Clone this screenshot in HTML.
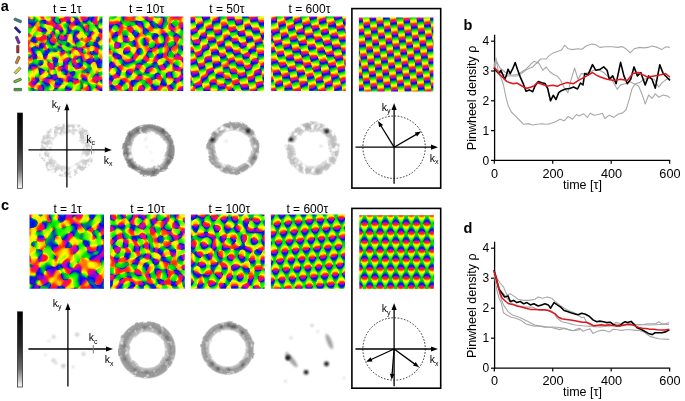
<!DOCTYPE html><html><head><meta charset="utf-8"><style>html,body{margin:0;padding:0;background:#fff;overflow:hidden}svg{display:block}</style></head><body><svg width="685" height="401" viewBox="0 0 685 401"><defs><linearGradient id="wb" spreadMethod="repeat" gradientUnits="userSpaceOnUse"><stop offset="0" stop-color="rgb(255,128,0)"/><stop offset=".083" stop-color="rgb(238,191,0)"/><stop offset=".167" stop-color="rgb(191,238,0)"/><stop offset=".25" stop-color="rgb(128,255,0)"/><stop offset=".333" stop-color="rgb(64,238,0)"/><stop offset=".417" stop-color="rgb(17,191,0)"/><stop offset=".5" stop-color="rgb(0,128,0)"/><stop offset=".583" stop-color="rgb(17,64,0)"/><stop offset=".667" stop-color="rgb(64,17,0)"/><stop offset=".75" stop-color="rgb(127,0,0)"/><stop offset=".833" stop-color="rgb(191,17,0)"/><stop offset=".917" stop-color="rgb(238,64,0)"/><stop offset="1" stop-color="rgb(255,127,0)"/></linearGradient><filter id="cm6" color-interpolation-filters="sRGB"><feGaussianBlur in="SourceGraphic" stdDeviation="0.8" result="s"/><feColorMatrix in="s" values="5.7956 1.5529 0 0 -3.1742 4.2426 4.2426 0 0 -3.7426 1.5529 5.7956 0 0 -3.1742 0 0 0 1 0" result="a"/><feColorMatrix in="s" values="-1.5529 5.7956 0 0 -1.6213 -4.2426 4.2426 0 0 .5 -5.7956 1.5529 0 0 2.6213 0 0 0 1 0" result="b"/><feColorMatrix in="a" values="-.1529 -.1333 -.1503 0 .9314 0 -.0039 -.0078 0 .8954 .0078 .0706 .2353 0 .1863 0 0 0 1 0" result="p"/><feColorMatrix in="b" values="-1.0544 .3581 .7171 0 .5 -.1059 -.1843 -.0824 0 .5 .0784 .2588 .0235 0 .5 0 0 0 1 0" result="q"/><feComposite in="p" in2="q" operator="arithmetic" k1="0" k2="2.5" k3="2.5" k4="-2.5"/><feGaussianBlur stdDeviation="0.45"/></filter><filter id="cm12" color-interpolation-filters="sRGB"><feGaussianBlur in="SourceGraphic" stdDeviation="0.8" result="s"/><feColorMatrix in="s" values="11.5911 3.1058 0 0 -6.8485 8.4853 8.4853 0 0 -7.9853 3.1058 11.5911 0 0 -6.8485 0 0 0 1 0" result="a"/><feColorMatrix in="s" values="-3.1058 11.5911 0 0 -3.7426 -8.4853 8.4853 0 0 .5 -11.5911 3.1058 0 0 4.7426 0 0 0 1 0" result="b"/><feColorMatrix in="a" values="-.1529 -.1333 -.1503 0 .9314 0 -.0039 -.0078 0 .8954 .0078 .0706 .2353 0 .1863 0 0 0 1 0" result="p"/><feColorMatrix in="b" values="-1.0544 .3581 .7171 0 .5 -.1059 -.1843 -.0824 0 .5 .0784 .2588 .0235 0 .5 0 0 0 1 0" result="q"/><feComposite in="p" in2="q" operator="arithmetic" k1="0" k2="2.5" k3="2.5" k4="-2.5"/><feGaussianBlur stdDeviation="0.45"/></filter><filter id="cm20" color-interpolation-filters="sRGB"><feGaussianBlur in="SourceGraphic" stdDeviation="0.8" result="s"/><feColorMatrix in="s" values="19.3185 5.1764 0 0 -11.7474 14.1421 14.1421 0 0 -13.6421 5.1764 19.3185 0 0 -11.7474 0 0 0 1 0" result="a"/><feColorMatrix in="s" values="-5.1764 19.3185 0 0 -6.5711 -14.1421 14.1421 0 0 .5 -19.3185 5.1764 0 0 7.5711 0 0 0 1 0" result="b"/><feColorMatrix in="a" values="-.1529 -.1333 -.1503 0 .9314 0 -.0039 -.0078 0 .8954 .0078 .0706 .2353 0 .1863 0 0 0 1 0" result="p"/><feColorMatrix in="b" values="-1.0544 .3581 .7171 0 .5 -.1059 -.1843 -.0824 0 .5 .0784 .2588 .0235 0 .5 0 0 0 1 0" result="q"/><feComposite in="p" in2="q" operator="arithmetic" k1="0" k2="2.5" k3="2.5" k4="-2.5"/><feGaussianBlur stdDeviation="0.45"/></filter><filter id="sb" x="-50%" y="-50%" width="200%" height="200%"><feGaussianBlur stdDeviation="0.8"/></filter><linearGradient id="a10" href="#wb" x1="23.5" y1="17.98" x2="31.28" y2="15.64"/><linearGradient id="a11" href="#wb" x1="20.65" y1="17.57" x2="29.22" y2="16.45"/><linearGradient id="a12" href="#wb" x1="26.32" y1="16.5" x2="34.23" y2="16.95"/><linearGradient id="a13" href="#wb" x1="24.76" y1="15.53" x2="31.85" y2="17.8"/><linearGradient id="a14" href="#wb" x1="22.14" y1="14.43" x2="32.53" y2="18.21"/><linearGradient id="a15" href="#wb" x1="24.61" y1="14.28" x2="29.96" y2="17.84"/><linearGradient id="a16" href="#wb" x1="25.43" y1="14.1" x2="32.63" y2="20.85"/><linearGradient id="a17" href="#wb" x1="22.93" y1="10.39" x2="29.08" y2="17.77"/><linearGradient id="a18" href="#wb" x1="26.61" y1="12.95" x2="29.77" y2="20.71"/><linearGradient id="a19" href="#wb" x1="27.74" y1="14.68" x2="29.21" y2="22.5"/><linearGradient id="a110" href="#wb" x1="27.19" y1="5.39" x2="28.35" y2="19.66"/><linearGradient id="a111" href="#wb" x1="28.31" y1="13.04" x2="27.9" y2="19.92"/><linearGradient id="a112" href="#wb" x1="29.1" y1="13.64" x2="26.59" y2="21.07"/><linearGradient id="a113" href="#wb" x1="29.22" y1="14.12" x2="26.94" y2="19.16"/><linearGradient id="a114" href="#wb" x1="28.7" y1="15.64" x2="22.15" y2="26.14"/><linearGradient id="a115" href="#wb" x1="29.78" y1="14.73" x2="20.42" y2="25.18"/><linearGradient id="a116" href="#wb" x1="33.41" y1="12.93" x2="27.91" y2="16.73"/><linearGradient id="a117" href="#wb" x1="28.37" y1="16.47" x2="20.56" y2="20.24"/><linearGradient id="a118" href="#wb" x1="28.78" y1="16.43" x2="14.5" y2="19.96"/><linearGradient id="a119" href="#wb" x1="35.48" y1="16.44" x2="24.55" y2="16.68"/><linearGradient id="a120" href="#wb" x1="29.03" y1="16.6" x2="22.13" y2="16.61"/><linearGradient id="a121" href="#wb" x1="35.3" y1="19.04" x2="24.42" y2="15.36"/><linearGradient id="a122" href="#wb" x1="33.08" y1="19.04" x2="23.65" y2="14.42"/><linearGradient id="a123" href="#wb" x1="30.69" y1="18.38" x2="24.99" y2="14.47"/><linearGradient id="a124" href="#wb" x1="34.97" y1="24.01" x2="27.55" y2="16"/><linearGradient id="a125" href="#wb" x1="32.3" y1="23.37" x2="13.8" y2="-6.45"/><linearGradient id="a126" href="#wb" x1="29.55" y1="20.26" x2="26.7" y2="13.07"/><linearGradient id="a127" href="#wb" x1="29.65" y1="22.44" x2="27.89" y2="15.81"/><linearGradient id="a128" href="#wb" x1="29.21" y1="31.39" x2="27.71" y2="11.38"/><linearGradient id="a129" href="#wb" x1="28.01" y1="23.22" x2="28.15" y2="13.33"/><linearGradient id="a130" href="#wb" x1="26.83" y1="21.57" x2="28.87" y2="13.58"/><linearGradient id="a131" href="#wb" x1="27.5" y1="17.98" x2="31.16" y2="9.51"/><linearGradient id="a132" href="#wb" x1="25.8" y1="20.35" x2="29.6" y2="14.15"/><linearGradient id="a133" href="#wb" x1="25.09" y1="19.55" x2="32.93" y2="11.86"/><linearGradient id="a134" href="#wb" x1="26.2" y1="18.12" x2="30.89" y2="14.36"/><linearGradient id="a135" href="#wb" x1="23.7" y1="18.77" x2="34.15" y2="13.61"/><clipPath id="ca1"><rect x="28.1" y="16.6" width="74.3" height="74.4"/></clipPath><linearGradient id="a20" href="#wb" x1="107.71" y1="14.09" x2="111.71" y2="22.53"/><linearGradient id="a21" href="#wb" x1="107.14" y1="8.45" x2="109.11" y2="17.59"/><linearGradient id="a22" href="#wb" x1="108.83" y1="14.13" x2="109.12" y2="24.32"/><linearGradient id="a23" href="#wb" x1="109.57" y1="8.81" x2="108.71" y2="18.81"/><linearGradient id="a24" href="#wb" x1="112.53" y1="7.65" x2="108.88" y2="16.65"/><linearGradient id="a25" href="#wb" x1="112.54" y1="12.06" x2="106.37" y2="19.76"/><linearGradient id="a26" href="#wb" x1="109.96" y1="15.65" x2="102.71" y2="22.11"/><linearGradient id="a27" href="#wb" x1="114.82" y1="13.04" x2="106.85" y2="17.83"/><linearGradient id="a28" href="#wb" x1="109.93" y1="16.24" x2="100.88" y2="19.44"/><linearGradient id="a29" href="#wb" x1="114.35" y1="15.82" x2="104.23" y2="17.27"/><linearGradient id="a210" href="#wb" x1="111.58" y1="17.04" x2="102.52" y2="15.55"/><linearGradient id="a211" href="#wb" x1="116.72" y1="18.05" x2="107.11" y2="16.27"/><linearGradient id="a212" href="#wb" x1="114.15" y1="19.02" x2="105.45" y2="15.01"/><linearGradient id="a213" href="#wb" x1="109.31" y1="16.97" x2="102.27" y2="10.66"/><linearGradient id="a214" href="#wb" x1="111.18" y1="19.09" x2="104.87" y2="12.19"/><linearGradient id="a215" href="#wb" x1="110.37" y1="19.67" x2="106.15" y2="10.88"/><linearGradient id="a216" href="#wb" x1="109.52" y1="19.32" x2="107.34" y2="9.71"/><linearGradient id="a217" href="#wb" x1="109.2" y1="26.39" x2="108.9" y2="16.57"/><linearGradient id="a218" href="#wb" x1="108.4" y1="19.89" x2="109.9" y2="10.05"/><linearGradient id="a219" href="#wb" x1="105.71" y1="23.37" x2="109.81" y2="14.68"/><linearGradient id="a220" href="#wb" x1="106.07" y1="21.8" x2="110.57" y2="13.53"/><linearGradient id="a221" href="#wb" x1="104.64" y1="21.29" x2="110.94" y2="14.35"/><linearGradient id="a222" href="#wb" x1="102.41" y1="21.12" x2="110.32" y2="15.61"/><linearGradient id="a223" href="#wb" x1="101.79" y1="19.91" x2="110.35" y2="15.92"/><linearGradient id="a224" href="#wb" x1="102.98" y1="16.97" x2="112.43" y2="16.38"/><linearGradient id="a225" href="#wb" x1="107.82" y1="16.44" x2="117.21" y2="17.81"/><linearGradient id="a226" href="#wb" x1="101.27" y1="14.68" x2="110.24" y2="16.94"/><linearGradient id="a227" href="#wb" x1="103.51" y1="13.62" x2="111.69" y2="18.14"/><linearGradient id="a228" href="#wb" x1="102.23" y1="10.23" x2="109.5" y2="17.17"/><linearGradient id="a229" href="#wb" x1="106.5" y1="14.08" x2="113.04" y2="20.94"/><clipPath id="ca2"><rect x="108.9" y="16.6" width="74.4" height="74.4"/></clipPath><linearGradient id="a30" href="#wb" x1="187.89" y1="21.99" x2="191.95" y2="13.6"/><linearGradient id="a31" href="#wb" x1="195.64" y1="20.94" x2="188.51" y2="14.92"/><linearGradient id="a32" href="#wb" x1="195.53" y1="9.68" x2="189.68" y2="17.72"/><linearGradient id="a33" href="#wb" x1="192.76" y1="18.79" x2="184.94" y2="11.23"/><linearGradient id="a34" href="#wb" x1="190.31" y1="21.48" x2="190.75" y2="10.35"/><linearGradient id="a35" href="#wb" x1="186.81" y1="19.54" x2="195.22" y2="12.84"/><linearGradient id="a36" href="#wb" x1="189.74" y1="15.69" x2="196.5" y2="23.79"/><linearGradient id="a37" href="#wb" x1="186.9" y1="7.79" x2="190.8" y2="17.34"/><clipPath id="ca3"><rect x="190.5" y="16.6" width="73.5" height="74.4"/></clipPath><linearGradient id="a40" href="#wb" x1="268.71" y1="22.32" x2="272.31" y2="13.7"/><linearGradient id="a41" href="#wb" x1="276.44" y1="21.29" x2="269.42" y2="15.12"/><linearGradient id="a42" href="#wb" x1="269.81" y1="16.51" x2="280.1" y2="17.26"/><linearGradient id="a43" href="#wb" x1="268.08" y1="9.92" x2="272.19" y2="19.01"/><linearGradient id="a44" href="#wb" x1="278.91" y1="13.61" x2="269.43" y2="17.24"/><linearGradient id="a45" href="#wb" x1="277.19" y1="21.34" x2="269.13" y2="15.07"/><clipPath id="ca4"><rect x="271.1" y="16.6" width="74.6" height="74.4"/></clipPath><linearGradient id="ab0" href="#wb" x1="356.01" y1="21.37" x2="361.35" y2="14.04"/><linearGradient id="ab1" href="#wb" x1="362.94" y1="20.9" x2="356.09" y2="14.97"/><clipPath id="cab"><rect x="358.9" y="17.4" width="74.5" height="74.2"/></clipPath><linearGradient id="c10" href="#wb" x1="31.56" y1="218.21" x2="27.5" y2="210.69"/><linearGradient id="c11" href="#wb" x1="33.22" y1="222.96" x2="29.01" y2="213.27"/><linearGradient id="c12" href="#wb" x1="29.95" y1="217.01" x2="28.37" y2="207.86"/><linearGradient id="c13" href="#wb" x1="28.84" y1="230.03" x2="32.16" y2="151.44"/><linearGradient id="c14" href="#wb" x1="27.4" y1="225.28" x2="31.48" y2="204.12"/><linearGradient id="c15" href="#wb" x1="23.2" y1="227.77" x2="33.67" y2="205.55"/><linearGradient id="c16" href="#wb" x1="18.43" y1="227.05" x2="36.71" y2="206.17"/><linearGradient id="c17" href="#wb" x1="25.49" y1="217.38" x2="36.89" y2="208.9"/><linearGradient id="c18" href="#wb" x1="26.05" y1="216.52" x2="35.2" y2="210.89"/><linearGradient id="c19" href="#wb" x1="24.49" y1="216" x2="38.88" y2="211.4"/><linearGradient id="c110" href="#wb" x1="23.17" y1="214.63" x2="35.66" y2="214.17"/><linearGradient id="c111" href="#wb" x1="24.36" y1="213.54" x2="39.57" y2="216.08"/><linearGradient id="c112" href="#wb" x1="20.53" y1="210.84" x2="54.99" y2="224.52"/><linearGradient id="c113" href="#wb" x1="23.57" y1="210.63" x2="33.56" y2="216.98"/><linearGradient id="c114" href="#wb" x1="27.7" y1="212.39" x2="33.34" y2="218.67"/><linearGradient id="c115" href="#wb" x1="22.87" y1="206.02" x2="32.58" y2="218.29"/><linearGradient id="c116" href="#wb" x1="22.23" y1="195.93" x2="31.31" y2="218.99"/><linearGradient id="c117" href="#wb" x1="27.41" y1="207.04" x2="31.69" y2="222.12"/><linearGradient id="c118" href="#wb" x1="29.54" y1="211.69" x2="29.38" y2="222.31"/><linearGradient id="c119" href="#wb" x1="37.85" y1="189.85" x2="27.75" y2="219.56"/><linearGradient id="c120" href="#wb" x1="33.91" y1="202.79" x2="29.04" y2="215.62"/><linearGradient id="c121" href="#wb" x1="29.57" y1="214.29" x2="23.79" y2="223.22"/><linearGradient id="c122" href="#wb" x1="37.83" y1="206.6" x2="27.94" y2="215.86"/><linearGradient id="c123" href="#wb" x1="29.67" y1="214.3" x2="21.62" y2="219.04"/><linearGradient id="c124" href="#wb" x1="33.95" y1="212.89" x2="25.71" y2="215.69"/><linearGradient id="c125" href="#wb" x1="32.13" y1="213.94" x2="22.16" y2="215.68"/><linearGradient id="c126" href="#wb" x1="29.93" y1="214.48" x2="1.7" y2="208.99"/><linearGradient id="c127" href="#wb" x1="36.92" y1="217.96" x2="25" y2="212.24"/><linearGradient id="c128" href="#wb" x1="31.48" y1="215.46" x2="23.06" y2="210.94"/><linearGradient id="c129" href="#wb" x1="36.33" y1="221.38" x2="27.04" y2="211.88"/><clipPath id="cc1"><rect x="29.5" y="214.4" width="74.5" height="74.4"/></clipPath><linearGradient id="c20" href="#wb" x1="108.77" y1="214.54" x2="118.38" y2="213.55"/><linearGradient id="c21" href="#wb" x1="106.55" y1="213.8" x2="117.59" y2="215.66"/><linearGradient id="c22" href="#wb" x1="109.44" y1="214.18" x2="119.06" y2="217.37"/><linearGradient id="c23" href="#wb" x1="107.81" y1="212.38" x2="115.57" y2="219.21"/><linearGradient id="c24" href="#wb" x1="107.31" y1="211.86" x2="114.29" y2="218.21"/><linearGradient id="c25" href="#wb" x1="109.88" y1="214.02" x2="114.95" y2="222.76"/><linearGradient id="c26" href="#wb" x1="109.75" y1="213.5" x2="113.49" y2="223.14"/><linearGradient id="c27" href="#wb" x1="108.72" y1="207.54" x2="110.7" y2="217.38"/><linearGradient id="c28" href="#wb" x1="110.22" y1="212.98" x2="109.38" y2="223.04"/><linearGradient id="c29" href="#wb" x1="110.62" y1="212.64" x2="107.98" y2="221.61"/><linearGradient id="c210" href="#wb" x1="113.52" y1="207.84" x2="109.67" y2="215.22"/><linearGradient id="c211" href="#wb" x1="117.74" y1="207.1" x2="109.28" y2="215.18"/><linearGradient id="c212" href="#wb" x1="115.64" y1="209.9" x2="107.53" y2="216.49"/><linearGradient id="c213" href="#wb" x1="118.02" y1="211.33" x2="108.88" y2="214.87"/><linearGradient id="c214" href="#wb" x1="118.6" y1="211.79" x2="108.09" y2="215.02"/><linearGradient id="c215" href="#wb" x1="115.11" y1="213.87" x2="104.52" y2="214.99"/><linearGradient id="c216" href="#wb" x1="118.57" y1="216.44" x2="108.82" y2="214.09"/><linearGradient id="c217" href="#wb" x1="118.12" y1="218.95" x2="109.83" y2="214.24"/><linearGradient id="c218" href="#wb" x1="113.28" y1="216.56" x2="105.37" y2="211.19"/><linearGradient id="c219" href="#wb" x1="114.85" y1="220" x2="108.76" y2="212.82"/><linearGradient id="c220" href="#wb" x1="115.13" y1="222.51" x2="109.97" y2="214.19"/><linearGradient id="c221" href="#wb" x1="113.38" y1="222.23" x2="109.86" y2="213.82"/><linearGradient id="c222" href="#wb" x1="110.35" y1="219.35" x2="109.76" y2="207.65"/><linearGradient id="c223" href="#wb" x1="109.87" y1="218.83" x2="110.36" y2="209.45"/><linearGradient id="c224" href="#wb" x1="108.16" y1="221.4" x2="110.63" y2="212.47"/><linearGradient id="c225" href="#wb" x1="106.5" y1="219.49" x2="112.37" y2="211.19"/><linearGradient id="c226" href="#wb" x1="108.42" y1="215.94" x2="115.55" y2="209.4"/><linearGradient id="c227" href="#wb" x1="107.71" y1="216.23" x2="115.41" y2="210.33"/><linearGradient id="c228" href="#wb" x1="107.79" y1="215.44" x2="116.36" y2="211.58"/><linearGradient id="c229" href="#wb" x1="109.86" y1="214.43" x2="118.69" y2="213.16"/><clipPath id="cc2"><rect x="110.1" y="214.4" width="74.7" height="74.4"/></clipPath><linearGradient id="c30" href="#wb" x1="194.79" y1="217.12" x2="187.01" y2="211.68"/><linearGradient id="c31" href="#wb" x1="190.49" y1="219.13" x2="191.31" y2="209.67"/><linearGradient id="c32" href="#wb" x1="186.6" y1="216.41" x2="195.2" y2="212.39"/><linearGradient id="c33" href="#wb" x1="192.77" y1="221.37" x2="190.22" y2="211.88"/><linearGradient id="c34" href="#wb" x1="188.89" y1="217.8" x2="193.73" y2="209.61"/><linearGradient id="c35" href="#wb" x1="182.8" y1="213.26" x2="192.72" y2="214.66"/><linearGradient id="c36" href="#wb" x1="190.54" y1="214.28" x2="199.24" y2="217.24"/><linearGradient id="c37" href="#wb" x1="185.41" y1="205.51" x2="191.03" y2="214.61"/><linearGradient id="c38" href="#wb" x1="191.28" y1="213.41" x2="187.49" y2="223.26"/><linearGradient id="c39" href="#wb" x1="200.19" y1="215.19" x2="190.17" y2="214.34"/><linearGradient id="c310" href="#wb" x1="197.07" y1="218.27" x2="188.52" y2="212.91"/><clipPath id="cc3"><rect x="190.9" y="214.4" width="73.8" height="74.4"/></clipPath><linearGradient id="c40" href="#wb" x1="275.11" y1="216.37" x2="266.69" y2="212.43"/><linearGradient id="c41" href="#wb" x1="271.31" y1="219.03" x2="270.49" y2="209.77"/><linearGradient id="c42" href="#wb" x1="267.09" y1="217.07" x2="274.71" y2="211.73"/><linearGradient id="c43" href="#wb" x1="267.89" y1="214.13" x2="276.48" y2="214.89"/><linearGradient id="c44" href="#wb" x1="268.74" y1="210.69" x2="273.27" y2="218.47"/><linearGradient id="c45" href="#wb" x1="275.88" y1="217.12" x2="267.82" y2="212.72"/><linearGradient id="c46" href="#wb" x1="271.15" y1="218.11" x2="270.54" y2="209.06"/><clipPath id="cc4"><rect x="270.9" y="214.4" width="74.1" height="74.4"/></clipPath><linearGradient id="cb0" href="#wb" x1="355.4" y1="212.95" x2="363.2" y2="217.45"/><linearGradient id="cb1" href="#wb" x1="359.3" y1="210.7" x2="359.3" y2="219.7"/><linearGradient id="cb2" href="#wb" x1="363.2" y1="212.95" x2="355.4" y2="217.45"/><clipPath id="ccb"><rect x="359.3" y="215.2" width="74.6" height="73.8"/></clipPath><radialGradient id="rg1" gradientUnits="userSpaceOnUse" cx="66.9" cy="150" r="28.3"><stop offset=".534" stop-color="rgb(200,200,200)" stop-opacity="0"/><stop offset=".59" stop-color="rgb(200,200,200)" stop-opacity=".55"/><stop offset=".76" stop-color="rgb(200,200,200)" stop-opacity="1"/><stop offset=".929" stop-color="rgb(200,200,200)" stop-opacity=".85"/><stop offset=".986" stop-color="rgb(200,200,200)" stop-opacity="0"/></radialGradient><filter id="nz1" x="-10%" y="-10%" width="120%" height="120%"><feTurbulence type="fractalNoise" baseFrequency="0.2" numOctaves="2" seed="3" result="t"/><feTurbulence type="fractalNoise" baseFrequency="0.12" numOctaves="1" seed="53" result="d"/><feDisplacementMap in="SourceGraphic" in2="d" scale="5" xChannelSelector="R" yChannelSelector="G" result="sg"/><feColorMatrix in="t" values="0 0 0 0 0 0 0 0 0 0 0 0 0 0 0 4.5 0 0 0 -1.7" result="m"/><feComposite in="sg" in2="m" operator="in"/><feGaussianBlur stdDeviation="0.7"/></filter><radialGradient id="rg2" gradientUnits="userSpaceOnUse" cx="148.9" cy="150" r="27"><stop offset=".63" stop-color="rgb(128,128,128)" stop-opacity="0"/><stop offset=".689" stop-color="rgb(128,128,128)" stop-opacity=".55"/><stop offset=".807" stop-color="rgb(128,128,128)" stop-opacity="1"/><stop offset=".926" stop-color="rgb(128,128,128)" stop-opacity=".85"/><stop offset=".985" stop-color="rgb(128,128,128)" stop-opacity="0"/></radialGradient><filter id="nz2" x="-10%" y="-10%" width="120%" height="120%"><feTurbulence type="fractalNoise" baseFrequency="0.15" numOctaves="2" seed="5" result="t"/><feTurbulence type="fractalNoise" baseFrequency="0.12" numOctaves="1" seed="55" result="d"/><feDisplacementMap in="SourceGraphic" in2="d" scale="5" xChannelSelector="R" yChannelSelector="G" result="sg"/><feColorMatrix in="t" values="0 0 0 0 0 0 0 0 0 0 0 0 0 0 0 3.5 0 0 0 -0.5" result="m"/><feComposite in="sg" in2="m" operator="in"/><feGaussianBlur stdDeviation="0.7"/></filter><radialGradient id="rg3" gradientUnits="userSpaceOnUse" cx="233.2" cy="148.3" r="27.3"><stop offset=".626" stop-color="rgb(150,150,150)" stop-opacity="0"/><stop offset=".685" stop-color="rgb(150,150,150)" stop-opacity=".55"/><stop offset=".806" stop-color="rgb(150,150,150)" stop-opacity="1"/><stop offset=".927" stop-color="rgb(150,150,150)" stop-opacity=".85"/><stop offset=".985" stop-color="rgb(150,150,150)" stop-opacity="0"/></radialGradient><filter id="nz3" x="-10%" y="-10%" width="120%" height="120%"><feTurbulence type="fractalNoise" baseFrequency="0.15" numOctaves="2" seed="7" result="t"/><feTurbulence type="fractalNoise" baseFrequency="0.12" numOctaves="1" seed="57" result="d"/><feDisplacementMap in="SourceGraphic" in2="d" scale="5" xChannelSelector="R" yChannelSelector="G" result="sg"/><feColorMatrix in="t" values="0 0 0 0 0 0 0 0 0 0 0 0 0 0 0 3.4 0 0 0 -0.6" result="m"/><feComposite in="sg" in2="m" operator="in"/><feGaussianBlur stdDeviation="0.7"/></filter><radialGradient id="rg4" gradientUnits="userSpaceOnUse" cx="312.4" cy="148.7" r="27.8"><stop offset=".597" stop-color="rgb(188,188,188)" stop-opacity="0"/><stop offset=".655" stop-color="rgb(188,188,188)" stop-opacity=".55"/><stop offset=".791" stop-color="rgb(188,188,188)" stop-opacity="1"/><stop offset=".928" stop-color="rgb(188,188,188)" stop-opacity=".85"/><stop offset=".986" stop-color="rgb(188,188,188)" stop-opacity="0"/></radialGradient><filter id="nz4" x="-10%" y="-10%" width="120%" height="120%"><feTurbulence type="fractalNoise" baseFrequency="0.17" numOctaves="2" seed="9" result="t"/><feTurbulence type="fractalNoise" baseFrequency="0.12" numOctaves="1" seed="59" result="d"/><feDisplacementMap in="SourceGraphic" in2="d" scale="5" xChannelSelector="R" yChannelSelector="G" result="sg"/><feColorMatrix in="t" values="0 0 0 0 0 0 0 0 0 0 0 0 0 0 0 4.2 0 0 0 -1.3" result="m"/><feComposite in="sg" in2="m" operator="in"/><feGaussianBlur stdDeviation="0.7"/></filter><radialGradient id="rg6" gradientUnits="userSpaceOnUse" cx="147.1" cy="349.9" r="29.6"><stop offset=".581" stop-color="rgb(145,145,145)" stop-opacity="0"/><stop offset=".635" stop-color="rgb(145,145,145)" stop-opacity=".55"/><stop offset=".784" stop-color="rgb(145,145,145)" stop-opacity="1"/><stop offset=".932" stop-color="rgb(145,145,145)" stop-opacity=".85"/><stop offset=".986" stop-color="rgb(145,145,145)" stop-opacity="0"/></radialGradient><filter id="nz6" x="-10%" y="-10%" width="120%" height="120%"><feTurbulence type="fractalNoise" baseFrequency="0.2" numOctaves="2" seed="11" result="t"/><feTurbulence type="fractalNoise" baseFrequency="0.12" numOctaves="1" seed="61" result="d"/><feDisplacementMap in="SourceGraphic" in2="d" scale="3" xChannelSelector="R" yChannelSelector="G" result="sg"/><feColorMatrix in="t" values="0 0 0 0 0 0 0 0 0 0 0 0 0 0 0 2.2 0 0 0 0.05" result="m"/><feComposite in="sg" in2="m" operator="in"/><feGaussianBlur stdDeviation="0.7"/></filter><radialGradient id="rg7" gradientUnits="userSpaceOnUse" cx="227.4" cy="348.3" r="27.5"><stop offset=".636" stop-color="rgb(150,150,150)" stop-opacity="0"/><stop offset=".695" stop-color="rgb(150,150,150)" stop-opacity=".55"/><stop offset=".811" stop-color="rgb(150,150,150)" stop-opacity="1"/><stop offset=".927" stop-color="rgb(150,150,150)" stop-opacity=".85"/><stop offset=".985" stop-color="rgb(150,150,150)" stop-opacity="0"/></radialGradient><filter id="nz7" x="-10%" y="-10%" width="120%" height="120%"><feTurbulence type="fractalNoise" baseFrequency="0.2" numOctaves="2" seed="13" result="t"/><feTurbulence type="fractalNoise" baseFrequency="0.12" numOctaves="1" seed="63" result="d"/><feDisplacementMap in="SourceGraphic" in2="d" scale="3" xChannelSelector="R" yChannelSelector="G" result="sg"/><feColorMatrix in="t" values="0 0 0 0 0 0 0 0 0 0 0 0 0 0 0 2.2 0 0 0 0.05" result="m"/><feComposite in="sg" in2="m" operator="in"/><feGaussianBlur stdDeviation="0.7"/></filter><linearGradient id="cbg" x1="0" y1="0" x2="0" y2="1"><stop offset="0" stop-color="#000"/><stop offset=".45" stop-color="#2a2a2a"/><stop offset=".75" stop-color="#6a6a6a"/><stop offset=".92" stop-color="#c8c8c8"/><stop offset="1" stop-color="#fff"/></linearGradient></defs><rect width="685" height="401" fill="#fff"/><g clip-path="url(#ca1)"><g filter="url(#cm20)"><rect x="26" y="14" width="80" height="80" fill="url(#a10)"/><rect x="26" y="14" width="80" height="80" fill="url(#a11)" opacity=".5"/><rect x="26" y="14" width="80" height="80" fill="url(#a12)" opacity=".3333"/><rect x="26" y="14" width="80" height="80" fill="url(#a13)" opacity=".25"/><rect x="26" y="14" width="80" height="80" fill="url(#a14)" opacity=".2"/><rect x="26" y="14" width="80" height="80" fill="url(#a15)" opacity=".1667"/><rect x="26" y="14" width="80" height="80" fill="url(#a16)" opacity=".1429"/><rect x="26" y="14" width="80" height="80" fill="url(#a17)" opacity=".125"/><rect x="26" y="14" width="80" height="80" fill="url(#a18)" opacity=".1111"/><rect x="26" y="14" width="80" height="80" fill="url(#a19)" opacity=".1"/><rect x="26" y="14" width="80" height="80" fill="url(#a110)" opacity=".0909"/><rect x="26" y="14" width="80" height="80" fill="url(#a111)" opacity=".0833"/><rect x="26" y="14" width="80" height="80" fill="url(#a112)" opacity=".0769"/><rect x="26" y="14" width="80" height="80" fill="url(#a113)" opacity=".0714"/><rect x="26" y="14" width="80" height="80" fill="url(#a114)" opacity=".0667"/><rect x="26" y="14" width="80" height="80" fill="url(#a115)" opacity=".0625"/><rect x="26" y="14" width="80" height="80" fill="url(#a116)" opacity=".0588"/><rect x="26" y="14" width="80" height="80" fill="url(#a117)" opacity=".0556"/><rect x="26" y="14" width="80" height="80" fill="url(#a118)" opacity=".0526"/><rect x="26" y="14" width="80" height="80" fill="url(#a119)" opacity=".05"/><rect x="26" y="14" width="80" height="80" fill="url(#a120)" opacity=".0476"/><rect x="26" y="14" width="80" height="80" fill="url(#a121)" opacity=".0455"/><rect x="26" y="14" width="80" height="80" fill="url(#a122)" opacity=".0435"/><rect x="26" y="14" width="80" height="80" fill="url(#a123)" opacity=".0417"/><rect x="26" y="14" width="80" height="80" fill="url(#a124)" opacity=".04"/><rect x="26" y="14" width="80" height="80" fill="url(#a125)" opacity=".0385"/><rect x="26" y="14" width="80" height="80" fill="url(#a126)" opacity=".037"/><rect x="26" y="14" width="80" height="80" fill="url(#a127)" opacity=".0357"/><rect x="26" y="14" width="80" height="80" fill="url(#a128)" opacity=".0345"/><rect x="26" y="14" width="80" height="80" fill="url(#a129)" opacity=".0333"/><rect x="26" y="14" width="80" height="80" fill="url(#a130)" opacity=".0323"/><rect x="26" y="14" width="80" height="80" fill="url(#a131)" opacity=".0312"/><rect x="26" y="14" width="80" height="80" fill="url(#a132)" opacity=".0303"/><rect x="26" y="14" width="80" height="80" fill="url(#a133)" opacity=".0294"/><rect x="26" y="14" width="80" height="80" fill="url(#a134)" opacity=".0286"/><rect x="26" y="14" width="80" height="80" fill="url(#a135)" opacity=".0278"/></g></g><g clip-path="url(#ca2)"><g filter="url(#cm20)"><rect x="106" y="14" width="80" height="80" fill="url(#a20)"/><rect x="106" y="14" width="80" height="80" fill="url(#a21)" opacity=".5"/><rect x="106" y="14" width="80" height="80" fill="url(#a22)" opacity=".3333"/><rect x="106" y="14" width="80" height="80" fill="url(#a23)" opacity=".25"/><rect x="106" y="14" width="80" height="80" fill="url(#a24)" opacity=".2"/><rect x="106" y="14" width="80" height="80" fill="url(#a25)" opacity=".1667"/><rect x="106" y="14" width="80" height="80" fill="url(#a26)" opacity=".1429"/><rect x="106" y="14" width="80" height="80" fill="url(#a27)" opacity=".125"/><rect x="106" y="14" width="80" height="80" fill="url(#a28)" opacity=".1111"/><rect x="106" y="14" width="80" height="80" fill="url(#a29)" opacity=".1"/><rect x="106" y="14" width="80" height="80" fill="url(#a210)" opacity=".0909"/><rect x="106" y="14" width="80" height="80" fill="url(#a211)" opacity=".0833"/><rect x="106" y="14" width="80" height="80" fill="url(#a212)" opacity=".0769"/><rect x="106" y="14" width="80" height="80" fill="url(#a213)" opacity=".0714"/><rect x="106" y="14" width="80" height="80" fill="url(#a214)" opacity=".0667"/><rect x="106" y="14" width="80" height="80" fill="url(#a215)" opacity=".0625"/><rect x="106" y="14" width="80" height="80" fill="url(#a216)" opacity=".0588"/><rect x="106" y="14" width="80" height="80" fill="url(#a217)" opacity=".0556"/><rect x="106" y="14" width="80" height="80" fill="url(#a218)" opacity=".0526"/><rect x="106" y="14" width="80" height="80" fill="url(#a219)" opacity=".05"/><rect x="106" y="14" width="80" height="80" fill="url(#a220)" opacity=".0476"/><rect x="106" y="14" width="80" height="80" fill="url(#a221)" opacity=".0455"/><rect x="106" y="14" width="80" height="80" fill="url(#a222)" opacity=".0435"/><rect x="106" y="14" width="80" height="80" fill="url(#a223)" opacity=".0417"/><rect x="106" y="14" width="80" height="80" fill="url(#a224)" opacity=".04"/><rect x="106" y="14" width="80" height="80" fill="url(#a225)" opacity=".0385"/><rect x="106" y="14" width="80" height="80" fill="url(#a226)" opacity=".037"/><rect x="106" y="14" width="80" height="80" fill="url(#a227)" opacity=".0357"/><rect x="106" y="14" width="80" height="80" fill="url(#a228)" opacity=".0345"/><rect x="106" y="14" width="80" height="80" fill="url(#a229)" opacity=".0333"/></g></g><g clip-path="url(#ca3)"><g filter="url(#cm12)"><rect x="188" y="14" width="79" height="80" fill="url(#a30)"/><rect x="188" y="14" width="79" height="80" fill="url(#a31)" opacity=".5"/><rect x="188" y="14" width="79" height="80" fill="url(#a32)" opacity=".1071"/><rect x="188" y="14" width="79" height="80" fill="url(#a33)" opacity=".0968"/><rect x="188" y="14" width="79" height="80" fill="url(#a34)" opacity=".0882"/><rect x="188" y="14" width="79" height="80" fill="url(#a35)" opacity=".0811"/><rect x="188" y="14" width="79" height="80" fill="url(#a36)" opacity=".075"/><rect x="188" y="14" width="79" height="80" fill="url(#a37)" opacity=".0698"/></g></g><g clip-path="url(#ca4)"><g filter="url(#cm12)"><rect x="269" y="14" width="80" height="80" fill="url(#a40)"/><rect x="269" y="14" width="80" height="80" fill="url(#a41)" opacity=".5"/><rect x="269" y="14" width="80" height="80" fill="url(#a42)" opacity=".0698"/><rect x="269" y="14" width="80" height="80" fill="url(#a43)" opacity=".0652"/><rect x="269" y="14" width="80" height="80" fill="url(#a44)" opacity=".0612"/><rect x="269" y="14" width="80" height="80" fill="url(#a45)" opacity=".0577"/></g></g><g clip-path="url(#cab)"><g filter="url(#cm6)"><rect x="356" y="15" width="80" height="80" fill="url(#ab0)"/><rect x="356" y="15" width="80" height="80" fill="url(#ab1)" opacity=".5"/></g></g><g clip-path="url(#cc1)"><g filter="url(#cm20)"><rect x="27" y="212" width="80" height="80" fill="url(#c10)"/><rect x="27" y="212" width="80" height="80" fill="url(#c11)" opacity=".5"/><rect x="27" y="212" width="80" height="80" fill="url(#c12)" opacity=".3333"/><rect x="27" y="212" width="80" height="80" fill="url(#c13)" opacity=".25"/><rect x="27" y="212" width="80" height="80" fill="url(#c14)" opacity=".2"/><rect x="27" y="212" width="80" height="80" fill="url(#c15)" opacity=".1667"/><rect x="27" y="212" width="80" height="80" fill="url(#c16)" opacity=".1429"/><rect x="27" y="212" width="80" height="80" fill="url(#c17)" opacity=".125"/><rect x="27" y="212" width="80" height="80" fill="url(#c18)" opacity=".1111"/><rect x="27" y="212" width="80" height="80" fill="url(#c19)" opacity=".1"/><rect x="27" y="212" width="80" height="80" fill="url(#c110)" opacity=".0909"/><rect x="27" y="212" width="80" height="80" fill="url(#c111)" opacity=".0833"/><rect x="27" y="212" width="80" height="80" fill="url(#c112)" opacity=".0769"/><rect x="27" y="212" width="80" height="80" fill="url(#c113)" opacity=".0714"/><rect x="27" y="212" width="80" height="80" fill="url(#c114)" opacity=".0667"/><rect x="27" y="212" width="80" height="80" fill="url(#c115)" opacity=".0625"/><rect x="27" y="212" width="80" height="80" fill="url(#c116)" opacity=".0588"/><rect x="27" y="212" width="80" height="80" fill="url(#c117)" opacity=".0556"/><rect x="27" y="212" width="80" height="80" fill="url(#c118)" opacity=".0526"/><rect x="27" y="212" width="80" height="80" fill="url(#c119)" opacity=".05"/><rect x="27" y="212" width="80" height="80" fill="url(#c120)" opacity=".0476"/><rect x="27" y="212" width="80" height="80" fill="url(#c121)" opacity=".0455"/><rect x="27" y="212" width="80" height="80" fill="url(#c122)" opacity=".0435"/><rect x="27" y="212" width="80" height="80" fill="url(#c123)" opacity=".0417"/><rect x="27" y="212" width="80" height="80" fill="url(#c124)" opacity=".04"/><rect x="27" y="212" width="80" height="80" fill="url(#c125)" opacity=".0385"/><rect x="27" y="212" width="80" height="80" fill="url(#c126)" opacity=".037"/><rect x="27" y="212" width="80" height="80" fill="url(#c127)" opacity=".0357"/><rect x="27" y="212" width="80" height="80" fill="url(#c128)" opacity=".0345"/><rect x="27" y="212" width="80" height="80" fill="url(#c129)" opacity=".0333"/></g></g><g clip-path="url(#cc2)"><g filter="url(#cm20)"><rect x="108" y="212" width="80" height="80" fill="url(#c20)"/><rect x="108" y="212" width="80" height="80" fill="url(#c21)" opacity=".5"/><rect x="108" y="212" width="80" height="80" fill="url(#c22)" opacity=".3333"/><rect x="108" y="212" width="80" height="80" fill="url(#c23)" opacity=".25"/><rect x="108" y="212" width="80" height="80" fill="url(#c24)" opacity=".2"/><rect x="108" y="212" width="80" height="80" fill="url(#c25)" opacity=".1667"/><rect x="108" y="212" width="80" height="80" fill="url(#c26)" opacity=".1429"/><rect x="108" y="212" width="80" height="80" fill="url(#c27)" opacity=".125"/><rect x="108" y="212" width="80" height="80" fill="url(#c28)" opacity=".1111"/><rect x="108" y="212" width="80" height="80" fill="url(#c29)" opacity=".1"/><rect x="108" y="212" width="80" height="80" fill="url(#c210)" opacity=".0909"/><rect x="108" y="212" width="80" height="80" fill="url(#c211)" opacity=".0833"/><rect x="108" y="212" width="80" height="80" fill="url(#c212)" opacity=".0769"/><rect x="108" y="212" width="80" height="80" fill="url(#c213)" opacity=".0714"/><rect x="108" y="212" width="80" height="80" fill="url(#c214)" opacity=".0667"/><rect x="108" y="212" width="80" height="80" fill="url(#c215)" opacity=".0625"/><rect x="108" y="212" width="80" height="80" fill="url(#c216)" opacity=".0588"/><rect x="108" y="212" width="80" height="80" fill="url(#c217)" opacity=".0556"/><rect x="108" y="212" width="80" height="80" fill="url(#c218)" opacity=".0526"/><rect x="108" y="212" width="80" height="80" fill="url(#c219)" opacity=".05"/><rect x="108" y="212" width="80" height="80" fill="url(#c220)" opacity=".0476"/><rect x="108" y="212" width="80" height="80" fill="url(#c221)" opacity=".0455"/><rect x="108" y="212" width="80" height="80" fill="url(#c222)" opacity=".0435"/><rect x="108" y="212" width="80" height="80" fill="url(#c223)" opacity=".0417"/><rect x="108" y="212" width="80" height="80" fill="url(#c224)" opacity=".04"/><rect x="108" y="212" width="80" height="80" fill="url(#c225)" opacity=".0385"/><rect x="108" y="212" width="80" height="80" fill="url(#c226)" opacity=".037"/><rect x="108" y="212" width="80" height="80" fill="url(#c227)" opacity=".0357"/><rect x="108" y="212" width="80" height="80" fill="url(#c228)" opacity=".0345"/><rect x="108" y="212" width="80" height="80" fill="url(#c229)" opacity=".0333"/></g></g><g clip-path="url(#cc3)"><g filter="url(#cm20)"><rect x="188" y="212" width="79" height="80" fill="url(#c30)"/><rect x="188" y="212" width="79" height="80" fill="url(#c31)" opacity=".5"/><rect x="188" y="212" width="79" height="80" fill="url(#c32)" opacity=".3333"/><rect x="188" y="212" width="79" height="80" fill="url(#c33)" opacity=".1228"/><rect x="188" y="212" width="79" height="80" fill="url(#c34)" opacity=".1094"/><rect x="188" y="212" width="79" height="80" fill="url(#c35)" opacity=".0986"/><rect x="188" y="212" width="79" height="80" fill="url(#c36)" opacity=".0897"/><rect x="188" y="212" width="79" height="80" fill="url(#c37)" opacity=".0824"/><rect x="188" y="212" width="79" height="80" fill="url(#c38)" opacity=".0761"/><rect x="188" y="212" width="79" height="80" fill="url(#c39)" opacity=".0707"/><rect x="188" y="212" width="79" height="80" fill="url(#c310)" opacity=".066"/></g></g><g clip-path="url(#cc4)"><g filter="url(#cm12)"><rect x="268" y="212" width="80" height="80" fill="url(#c40)"/><rect x="268" y="212" width="80" height="80" fill="url(#c41)" opacity=".5"/><rect x="268" y="212" width="80" height="80" fill="url(#c42)" opacity=".3333"/><rect x="268" y="212" width="80" height="80" fill="url(#c43)" opacity=".0625"/><rect x="268" y="212" width="80" height="80" fill="url(#c44)" opacity=".0588"/><rect x="268" y="212" width="80" height="80" fill="url(#c45)" opacity=".0556"/><rect x="268" y="212" width="80" height="80" fill="url(#c46)" opacity=".0526"/></g></g><g clip-path="url(#ccb)"><g filter="url(#cm6)"><rect x="357" y="213" width="80" height="79" fill="url(#cb0)"/><rect x="357" y="213" width="80" height="79" fill="url(#cb1)" opacity=".5"/><rect x="357" y="213" width="80" height="79" fill="url(#cb2)" opacity=".3333"/></g></g><circle cx="66.9" cy="150" r="28.3" fill="url(#rg1)" filter="url(#nz1)"/><circle cx="148.9" cy="150" r="27" fill="url(#rg2)" filter="url(#nz2)"/><circle cx="133.8" cy="166.9" r="1.5" fill="rgb(80,80,80)" opacity="0.8" filter="url(#sb)"/><circle cx="168.5" cy="162.2" r="1.5" fill="rgb(80,80,80)" opacity="0.8" filter="url(#sb)"/><circle cx="127.2" cy="155.7" r="1.5" fill="rgb(80,80,80)" opacity="0.8" filter="url(#sb)"/><circle cx="163.4" cy="130.4" r="1.5" fill="rgb(80,80,80)" opacity="0.8" filter="url(#sb)"/><circle cx="170.7" cy="157.3" r="1.5" fill="rgb(80,80,80)" opacity="0.8" filter="url(#sb)"/><circle cx="129.9" cy="134.8" r="1.5" fill="rgb(80,80,80)" opacity="0.8" filter="url(#sb)"/><circle cx="125" cy="153.4" r="1.5" fill="rgb(80,80,80)" opacity="0.8" filter="url(#sb)"/><circle cx="153.7" cy="172.7" r="1.5" fill="rgb(80,80,80)" opacity="0.8" filter="url(#sb)"/><circle cx="129.3" cy="160.6" r="1.5" fill="rgb(80,80,80)" opacity="0.8" filter="url(#sb)"/><circle cx="133.1" cy="167" r="1.5" fill="rgb(80,80,80)" opacity="0.8" filter="url(#sb)"/><circle cx="131.5" cy="164.4" r="1.5" fill="rgb(80,80,80)" opacity="0.8" filter="url(#sb)"/><circle cx="170.3" cy="159.5" r="1.5" fill="rgb(80,80,80)" opacity="0.8" filter="url(#sb)"/><circle cx="137.5" cy="130" r="1.5" fill="rgb(80,80,80)" opacity="0.8" filter="url(#sb)"/><circle cx="162.6" cy="130.7" r="1.5" fill="rgb(80,80,80)" opacity="0.8" filter="url(#sb)"/><circle cx="145.2" cy="140" r="1.0" fill="rgb(215,215,215)" opacity="1" filter="url(#sb)"/><circle cx="151" cy="152.2" r="1.0" fill="rgb(215,215,215)" opacity="1" filter="url(#sb)"/><circle cx="146.8" cy="147" r="1.0" fill="rgb(215,215,215)" opacity="1" filter="url(#sb)"/><circle cx="152.4" cy="161.3" r="1.0" fill="rgb(215,215,215)" opacity="1" filter="url(#sb)"/><circle cx="146.3" cy="137.8" r="1.0" fill="rgb(215,215,215)" opacity="1" filter="url(#sb)"/><circle cx="233.2" cy="148.3" r="27.3" fill="url(#rg3)" filter="url(#nz3)"/><circle cx="254" cy="158" r="1.8" fill="rgb(90,90,90)" opacity="0.9" filter="url(#sb)"/><circle cx="215.9" cy="134.1" r="1.6" fill="rgb(100,100,100)" opacity="0.9" filter="url(#sb)"/><circle cx="226" cy="141" r="1.2" fill="rgb(200,200,200)" opacity="0.8" filter="url(#sb)"/><circle cx="238" cy="124" r="1.8" fill="rgb(140,140,140)" opacity="0.8" filter="url(#sb)"/><circle cx="212.6" cy="139.8" r="2.2" fill="rgb(20,20,20)" filter="url(#sb)"/><circle cx="248.1" cy="130.7" r="2.2" fill="rgb(20,20,20)" filter="url(#sb)"/><circle cx="312.4" cy="148.7" r="27.8" fill="url(#rg4)" filter="url(#nz4)"/><circle cx="307.6" cy="126.3" r="2.6" fill="rgb(165,165,165)" opacity="0.9" filter="url(#sb)"/><circle cx="317.3" cy="170.9" r="2.6" fill="rgb(160,160,160)" opacity="0.9" filter="url(#sb)"/><circle cx="321" cy="146" r="1.3" fill="rgb(200,200,200)" opacity="0.8" filter="url(#sb)"/><circle cx="296" cy="163" r="2.2" fill="rgb(180,180,180)" opacity="0.7" filter="url(#sb)"/><circle cx="291" cy="139.6" r="2.2" fill="rgb(10,10,10)" filter="url(#sb)"/><circle cx="326.7" cy="131.2" r="2.2" fill="rgb(10,10,10)" filter="url(#sb)"/><circle cx="53.6" cy="336.9" r="1.8" fill="rgb(205,205,205)" opacity="1" filter="url(#sb)"/><circle cx="77.1" cy="334.4" r="2.0" fill="rgb(200,200,200)" opacity="1" filter="url(#sb)"/><circle cx="83.6" cy="353.9" r="1.9" fill="rgb(205,205,205)" opacity="1" filter="url(#sb)"/><circle cx="53.6" cy="360.4" r="2.0" fill="rgb(205,205,205)" opacity="1" filter="url(#sb)"/><circle cx="63.4" cy="366" r="2.2" fill="rgb(200,200,200)" opacity="1" filter="url(#sb)"/><circle cx="48.8" cy="340.9" r="1.2" fill="rgb(215,215,215)" opacity="1" filter="url(#sb)"/><circle cx="73.1" cy="366.9" r="1.3" fill="rgb(215,215,215)" opacity="1" filter="url(#sb)"/><circle cx="45.5" cy="354.7" r="1.2" fill="rgb(220,220,220)" opacity="1" filter="url(#sb)"/><circle cx="56" cy="363" r="1.6" fill="rgb(210,210,210)" opacity="1" filter="url(#sb)"/><circle cx="147.1" cy="349.9" r="29.6" fill="url(#rg6)" filter="url(#nz6)"/><circle cx="167.3" cy="339.4" r="1.6" fill="rgb(95,95,95)" opacity="0.8" filter="url(#sb)"/><circle cx="167.1" cy="359.8" r="1.6" fill="rgb(95,95,95)" opacity="0.8" filter="url(#sb)"/><circle cx="159.9" cy="332.1" r="1.6" fill="rgb(95,95,95)" opacity="0.8" filter="url(#sb)"/><circle cx="124.8" cy="359.1" r="1.6" fill="rgb(95,95,95)" opacity="0.8" filter="url(#sb)"/><circle cx="166.8" cy="337.2" r="1.6" fill="rgb(95,95,95)" opacity="0.8" filter="url(#sb)"/><circle cx="124.4" cy="345.6" r="1.6" fill="rgb(95,95,95)" opacity="0.8" filter="url(#sb)"/><circle cx="144.5" cy="327.5" r="1.6" fill="rgb(95,95,95)" opacity="0.8" filter="url(#sb)"/><circle cx="135.5" cy="369.8" r="1.6" fill="rgb(95,95,95)" opacity="0.8" filter="url(#sb)"/><circle cx="146.6" cy="372.1" r="1.6" fill="rgb(95,95,95)" opacity="0.8" filter="url(#sb)"/><circle cx="227.4" cy="348.3" r="27.5" fill="url(#rg7)" filter="url(#nz7)"/><circle cx="232.3" cy="326.9" r="1.6" fill="rgb(60,60,60)" opacity="0.85" filter="url(#sb)"/><circle cx="228.2" cy="369.6" r="1.6" fill="rgb(60,60,60)" opacity="0.85" filter="url(#sb)"/><circle cx="218.1" cy="368.5" r="1.6" fill="rgb(60,60,60)" opacity="0.85" filter="url(#sb)"/><circle cx="234.7" cy="326.5" r="1.6" fill="rgb(60,60,60)" opacity="0.85" filter="url(#sb)"/><circle cx="212.2" cy="363.8" r="1.6" fill="rgb(60,60,60)" opacity="0.85" filter="url(#sb)"/><circle cx="228.7" cy="325" r="1.6" fill="rgb(60,60,60)" opacity="0.85" filter="url(#sb)"/><circle cx="243" cy="365" r="1.6" fill="rgb(60,60,60)" opacity="0.85" filter="url(#sb)"/><circle cx="242.2" cy="332.7" r="1.6" fill="rgb(60,60,60)" opacity="0.85" filter="url(#sb)"/><circle cx="221.6" cy="327.2" r="1.6" fill="rgb(60,60,60)" opacity="0.85" filter="url(#sb)"/><circle cx="287" cy="354" r="1.7" fill="rgb(170,170,170)" opacity="1" filter="url(#sb)"/><circle cx="312" cy="325.5" r="1.6" fill="rgb(200,200,200)" opacity="1" filter="url(#sb)"/><circle cx="291" cy="337.7" r="1.5" fill="rgb(210,210,210)" opacity="1" filter="url(#sb)"/><circle cx="317.8" cy="331.6" r="1.3" fill="rgb(215,215,215)" opacity="1" filter="url(#sb)"/><circle cx="285.5" cy="381.3" r="1.3" fill="rgb(210,210,210)" opacity="1" filter="url(#sb)"/><circle cx="344" cy="377.8" r="1.3" fill="rgb(215,215,215)" opacity="1" filter="url(#sb)"/><circle cx="288.1" cy="357.8" r="2.3" fill="rgb(10,10,10)" filter="url(#sb)"/><circle cx="306.1" cy="372.2" r="2.3" fill="rgb(10,10,10)" filter="url(#sb)"/><circle cx="326.5" cy="363.9" r="2.3" fill="rgb(10,10,10)" filter="url(#sb)"/><g filter="url(#sb)" fill="#a4a4a4"><ellipse cx="329.3" cy="341.5" rx="2.4" ry="8.2" transform="rotate(-22 329.3 341.5)"/><ellipse cx="292" cy="360.5" rx="2.4" ry="8.5" transform="rotate(-38 292 360.5)"/></g><g filter="url(#sb)"><circle cx="288.1" cy="357.8" r="2.3" fill="#111"/></g><line x1="28.4" y1="149.9" x2="105.8" y2="149.9" stroke="#000" stroke-width="1.3"/><path d="M111.8 149.9L104.8 152.5L104.8 147.3z" fill="#000"/><line x1="66.9" y1="187.5" x2="66.9" y2="109.2" stroke="#000" stroke-width="1.3"/><path d="M66.9 103.2L69.5 110.2L64.3 110.2z" fill="#000"/><line x1="91.5" y1="145.9" x2="91.5" y2="154.4" stroke="#999" stroke-width="1"/><line x1="28.4" y1="349" x2="107" y2="349" stroke="#000" stroke-width="1.3"/><path d="M113 349L106 351.6L106 346.4z" fill="#000"/><line x1="67.9" y1="386.4" x2="67.9" y2="308.9" stroke="#000" stroke-width="1.3"/><path d="M67.9 302.9L70.5 309.9L65.3 309.9z" fill="#000"/><line x1="93.3" y1="345" x2="93.3" y2="353.5" stroke="#777" stroke-width="1"/><rect x="351.9" y="8.6" width="88.8" height="179.5" fill="none" stroke="#000" stroke-width="1.6"/><circle cx="394.1" cy="147.2" r="31.2" fill="none" stroke="#000" stroke-width="0.8" stroke-dasharray="1.6 1.6"/><line x1="355.5" y1="147.2" x2="432" y2="147.2" stroke="#000" stroke-width="1.3"/><path d="M438 147.2L431 149.8L431 144.6z" fill="#000"/><line x1="394.1" y1="183.7" x2="394.1" y2="109" stroke="#000" stroke-width="1.3"/><path d="M394.1 103L396.7 110L391.5 110z" fill="#000"/><line x1="394.1" y1="147.2" x2="416.77" y2="134.1" stroke="#000" stroke-width="1.3"/><path d="M421.1 131.6L417.06 136.59L414.75 132.61z" fill="#000"/><line x1="394.1" y1="147.2" x2="380.62" y2="125.26" stroke="#000" stroke-width="1.3"/><path d="M378 121L383.1 124.91L379.18 127.32z" fill="#000"/><rect x="351.9" y="208.4" width="88.8" height="179.8" fill="none" stroke="#000" stroke-width="1.6"/><circle cx="394.1" cy="349" r="31.2" fill="none" stroke="#000" stroke-width="0.8" stroke-dasharray="1.6 1.6"/><line x1="355.5" y1="349" x2="432" y2="349" stroke="#000" stroke-width="1.3"/><path d="M438 349L431 351.6L431 346.4z" fill="#000"/><line x1="394.1" y1="386.3" x2="394.1" y2="309" stroke="#000" stroke-width="1.3"/><path d="M394.1 303L396.7 310L391.5 310z" fill="#000"/><line x1="394.1" y1="349" x2="370.65" y2="359.72" stroke="#000" stroke-width="1.3"/><path d="M366.1 361.8L370.6 357.21L372.51 361.4z" fill="#000"/><line x1="394.1" y1="349" x2="415.16" y2="364.35" stroke="#000" stroke-width="1.3"/><path d="M419.2 367.3L413 365.62L415.71 361.91z" fill="#000"/><line x1="394.1" y1="349" x2="392.09" y2="374.82" stroke="#000" stroke-width="1.3"/><path d="M391.7 379.8L389.87 373.64L394.46 374z" fill="#000"/><rect x="17.4" y="113" width="5.2" height="75.3" fill="url(#cbg)" stroke="#222" stroke-width="0.7"/><rect x="17.4" y="311.8" width="5.2" height="75.2" fill="url(#cbg)" stroke="#222" stroke-width="0.7"/><rect x="-3.9" y="-1.25" width="7.8" height="2.5" rx="0.6" fill="#2e8a80" stroke="#333" stroke-width="0.5" transform="translate(17.8 20.4) rotate(22.5)"/><rect x="-3.9" y="-1.25" width="7.8" height="2.5" rx="0.6" fill="#1a1a9a" stroke="#333" stroke-width="0.5" transform="translate(17.6 30) rotate(45)"/><rect x="-3.9" y="-1.25" width="7.8" height="2.5" rx="0.6" fill="#7a22b4" stroke="#333" stroke-width="0.5" transform="translate(17.7 40) rotate(67.5)"/><rect x="-3.9" y="-1.25" width="7.8" height="2.5" rx="0.6" fill="#b0282c" stroke="#333" stroke-width="0.5" transform="translate(17.8 49.2) rotate(90)"/><rect x="-3.9" y="-1.25" width="7.8" height="2.5" rx="0.6" fill="#d08838" stroke="#333" stroke-width="0.5" transform="translate(17.7 60) rotate(112.5)"/><rect x="-3.9" y="-1.25" width="7.8" height="2.5" rx="0.6" fill="#d8d048" stroke="#333" stroke-width="0.5" transform="translate(17.6 70.5) rotate(135)"/><rect x="-3.9" y="-1.25" width="7.8" height="2.5" rx="0.6" fill="#72c03a" stroke="#333" stroke-width="0.5" transform="translate(17.6 80.5) rotate(157.5)"/><rect x="-3.9" y="-1.25" width="7.8" height="2.5" rx="0.6" fill="#3a9c3a" stroke="#333" stroke-width="0.5" transform="translate(17.8 89.6) rotate(180)"/><line x1="494.6" y1="34.7" x2="494.6" y2="161" stroke="#000" stroke-width="1.3"/><line x1="493.90000000000003" y1="160.4" x2="670.2" y2="160.4" stroke="#000" stroke-width="1.3"/><line x1="491.0" y1="160.4" x2="494.6" y2="160.4" stroke="#000" stroke-width="1.2"/><line x1="491.0" y1="130.6" x2="494.6" y2="130.6" stroke="#000" stroke-width="1.2"/><line x1="491.0" y1="100.8" x2="494.6" y2="100.8" stroke="#000" stroke-width="1.2"/><line x1="491.0" y1="71" x2="494.6" y2="71" stroke="#000" stroke-width="1.2"/><line x1="491.0" y1="41.2" x2="494.6" y2="41.2" stroke="#000" stroke-width="1.2"/><line x1="494.3" y1="160.4" x2="494.3" y2="163.8" stroke="#000" stroke-width="1.2"/><line x1="552.75" y1="160.4" x2="552.75" y2="163.8" stroke="#000" stroke-width="1.2"/><line x1="611.2" y1="160.4" x2="611.2" y2="163.8" stroke="#000" stroke-width="1.2"/><line x1="669.65" y1="160.4" x2="669.65" y2="163.8" stroke="#000" stroke-width="1.2"/><polyline points="494,67 497,62 500,68 505,72 510,75 515,75 519,73.7 523,71 526,69.2 530.4,64.7 533.8,61.3 537.2,62.5 540.6,59 546.2,59 549.1,55.6 553.2,52.9 557.3,51.5 561.4,50.1 564.7,45.2 568.3,48.8 572.4,49.6 577.9,48.8 582,49.3 586.1,46 591.6,44.1 595.7,44.7 599.8,47.4 605.5,46.8 612.3,46.8 617.8,47.4 621.9,46.6 626,48.8 630.1,52.9 634.2,48.8 639.7,47.4 643.8,47.9 648,47.4 652,46 657.5,47.4 661.6,49.6 665.8,46.8 669.9,47.4" fill="none" stroke="#a8a8a8" stroke-width="1.1" stroke-linejoin="round"/><polyline points="494,66 496,58 498,70 502,74 507,76 512,76 517,76 522,73 526,70 530,68 532.7,67 535.5,64 538.3,62.5 540.5,66 542.8,70.3 546.2,67 549.6,71.5 553.2,74.2 557.3,76.2 560,79.3 564.5,88.2 567.9,92.7 571.2,79.3 574.6,68 578,79.3 581.3,73.6 584.7,73.6 589.2,72.5 593.6,70.3 599.3,70.3 603.7,72.5 607.1,75.9 611.6,79.3 617.2,89.3 620.6,84.9 625.1,83.7 629.5,81.5 634,83.7 638.5,86 641.9,93.8 645.2,103.9 648.6,95 652,98.3 655.3,93.8 658.7,97.2 663.2,95 667.7,96.1 670,97.9" fill="none" stroke="#a8a8a8" stroke-width="1.1" stroke-linejoin="round"/><polyline points="494,68 497,70 501.2,78.2 503.5,85 505.7,96.2 508,105.2 511.3,112 515.8,116.4 520.3,121 523.7,124.3 528.2,123.6 532.7,125 537.2,124.3 541.7,123.8 546.2,124.3 550.5,123.6 556,121.4 560,119.2 564.2,120.8 568.3,116.4 572.4,119.2 576.5,114.5 579.2,115.9 583.4,113.7 587.5,117.3 590.2,113.2 594.3,115.3 598.4,114.5 602.5,113.2 604.9,118.5 609.3,115.1 613.8,117.4 618.3,114 622.8,112.9 626.2,109.5 629.5,98.3 631.8,89.3 635.1,83.7 639.6,82.6 644.1,79.3 648.6,78.1 654.2,79.3 658.7,87.1 662.1,82.6 666.6,79.3 670,78.1" fill="none" stroke="#a8a8a8" stroke-width="1.1" stroke-linejoin="round"/><polyline points="494,68 496.7,71.5 499,73.7 500.8,70.3 502.4,73.7 504.6,79.3 506.2,76 508,69.2 510.2,73.7 512.5,69.2 515.2,62.5 517.4,69.2 520.3,77.1 523.3,83.8 526,91.2 529.3,89.9 532.7,91.7 535,86 538.3,81.6 541.7,82.7 545,83.5 547.7,88.5 550.5,100.8 553.2,95.3 556,99.5 558.7,92.6 561.4,90.7 565.5,89 569.7,88.5 573.5,87 577.5,89 580.5,83 583,85 584.7,73.6 588,74.8 592.5,64.7 595.9,70.3 600.4,69.2 603.7,66.9 607.1,70.3 609.3,79.3 612.7,75.9 616.1,83.7 620.6,62.4 623.9,75.9 627.3,83.7 630.7,79.3 634,66.9 637.4,75.9 640.8,72.5 645.2,84.9 648.6,75.9 652,79.3 655.3,88.2 659.8,64.7 663.2,73.6 666.6,77 670,80.4" fill="none" stroke="#000" stroke-width="1.6" stroke-linejoin="round"/><polyline points="494,67 496.7,70.3 500,74.8 503.5,78.2 506.9,81.6 510.2,82.7 513.6,83.8 517,83.1 520.3,85 523.7,87.2 527,88.3 530.4,87.2 533.8,86 537.2,82.7 540.6,83.8 544,85 547.3,86 549.1,85.8 553.2,85.2 557.3,86.3 560,84.9 566.7,82.6 573.5,83.7 580.2,79.3 586.9,75.9 592.5,72.5 595.9,74.8 600.4,77 607.1,79.3 613.8,80.4 620.6,79.3 627.3,80.4 632.9,73.6 638.5,72.5 643,74.8 647.5,77 654.2,75.9 660.9,74.8 665.4,73.6 670,77" fill="none" stroke="#e0151b" stroke-width="1.5" stroke-linejoin="round"/><line x1="494.6" y1="241.7" x2="494.6" y2="368.8" stroke="#000" stroke-width="1.3"/><line x1="493.90000000000003" y1="368.20000000000005" x2="670.2" y2="368.20000000000005" stroke="#000" stroke-width="1.3"/><line x1="491.0" y1="368.2" x2="494.6" y2="368.2" stroke="#000" stroke-width="1.2"/><line x1="491.0" y1="338.2" x2="494.6" y2="338.2" stroke="#000" stroke-width="1.2"/><line x1="491.0" y1="308.2" x2="494.6" y2="308.2" stroke="#000" stroke-width="1.2"/><line x1="491.0" y1="278.2" x2="494.6" y2="278.2" stroke="#000" stroke-width="1.2"/><line x1="491.0" y1="248.2" x2="494.6" y2="248.2" stroke="#000" stroke-width="1.2"/><line x1="494.3" y1="368.20000000000005" x2="494.3" y2="371.6" stroke="#000" stroke-width="1.2"/><line x1="552.75" y1="368.20000000000005" x2="552.75" y2="371.6" stroke="#000" stroke-width="1.2"/><line x1="611.2" y1="368.20000000000005" x2="611.2" y2="371.6" stroke="#000" stroke-width="1.2"/><line x1="669.65" y1="368.20000000000005" x2="669.65" y2="371.6" stroke="#000" stroke-width="1.2"/><polyline points="494,272 497,283 499,289.2 501.2,299.3 503.5,304.9 508,311.6 512.4,315 519.2,317.2 525.9,320.6 534.9,325.1 546.1,326.9 557.3,327.3 564.1,328.4 573,330.7 580,329.6" fill="none" stroke="#a8a8a8" stroke-width="1.1" stroke-linejoin="round"/><polyline points="494,270 497,278 500,283 503.5,286.9 506.8,294.8 510.2,293.7 513.6,295.9 518.1,299.3 523.7,300.4 529.3,300.4 534.9,299.3 538.2,297 542.7,298.2 547.2,297 551.7,298.2 555.1,301.5 559.6,304.9 564.1,308.2 568.5,310.5 574.2,312.7 578,315 581.7,317.7 584,316.9 586.2,321.4 590,325.2 594.5,325.6 599,325.6 603.4,325.9 607.9,325.6 612.4,325.2 615.4,322.6 618.4,322.9 621.4,324.4 625.9,324.4 630.4,324.4 634.9,324.4 639.4,324.7 643.9,324.4 648.4,323.7 652.8,323.7 655.8,323.7 658.8,321.7 661.8,323.7 665.6,323.7 669.3,322.6" fill="none" stroke="#a8a8a8" stroke-width="1.1" stroke-linejoin="round"/><polyline points="494,271.2 497,282 500,290 503.5,293.7 508,299.3 512.4,303.8 519.2,306 525.9,307.1 532.6,307.1 537.1,309.4 541.6,310.5 546.1,309.8 550.6,310.5 554,312.7 557.3,318.4 561.8,321.7 566.3,322.8 570.8,323.9 575.3,325 580,325.5 590,326.5 600,327 610,326 620,325 630,325.5 640,324.5 650,325 660,324.5 669,324.5" fill="none" stroke="#a8a8a8" stroke-width="1.1" stroke-linejoin="round"/><polyline points="494,273.5 496.7,289.2 499,298.2 501.2,302.6 503.5,312.7 506.8,315 511.3,317.2 515.8,318.3 521.4,320.6 525.9,324 530.4,325.1 534.9,326.2 539.4,326.2 545,327.3 550.6,327.3 555.1,328.4 559.6,329.6 564.1,328.4 568.5,329.6 573,330.7 575,329.7 579.5,328.2 583.2,331.2 587,329.7 590,328.9 593,333.4 597.5,331.2 601.2,330.4 604.9,330.4 609.4,331.9 613.2,329.2 616.9,329.7 621.4,330.4 625.9,329.7 630.4,329.7 634.9,330.4 639.4,330.4 643.9,331.9 646.9,334.2 649.9,336.4 654.3,337.6 658.8,338.7 664.8,339.1 669.3,339.4" fill="none" stroke="#a8a8a8" stroke-width="1.1" stroke-linejoin="round"/><polyline points="494,270.1 496.7,280.2 499,289.2 502.3,293.7 504.6,297 508,295.9 510.2,301.5 513.6,300.4 516.9,302.6 520.3,301.5 523.7,303.8 527,302.6 530.4,304.9 533.8,303.8 538.2,306 541.6,304.9 545,303.8 548.3,304.9 550.6,308.2 554,302.6 557.3,304.9 560.7,307.1 564.1,310.5 567.4,311.6 570.8,312.7 575,313.9 578,314.7 581.7,313.2 585.5,314.3 589.2,316.2 593,319.9 596.7,321.7 599.7,321.1 603.4,321.7 606.4,322.6 610.2,322.2 613.2,324.4 616.2,325.6 619.9,325.6 622.9,322.9 625.1,321.7 627.4,322.6 631.1,321.4 634.1,324.4 637.1,327.7 640.9,329.2 644.6,331.2 648.4,333.4 652.1,334.6 655.1,332.7 658.8,332.7 661.8,332.7 665.6,331.9 669.3,329.7" fill="none" stroke="#000" stroke-width="1.6" stroke-linejoin="round"/><polyline points="494,271.2 495.6,275.7 497.9,284.7 500.1,293.7 502.3,298.2 505.7,301.5 509.1,303.8 512.4,304.4 516.9,306 521.4,307.1 525.9,308.2 530.4,309.4 534.9,309.4 539.4,309.8 543.9,309.8 548.3,310.5 551.7,312.1 555.1,313.9 558.4,317.2 561.8,318.8 566.3,319.5 570.8,320.1 575,320.7 578.7,321.4 582.5,322.2 586.2,322.2 590,323.7 593.7,325.9 597.5,325.2 601.2,324.7 604.9,325.2 608.7,324.7 612.4,325.6 616.2,325.9 619.9,325.9 623.7,325.2 627.4,324.1 631.1,324.4 634.9,325.9 638.6,327.4 642.4,328.2 646.1,328.6 649.9,329.2 653.6,329.2 657.3,329.7 661.1,330.1 664.8,330.1 669.3,329.2" fill="none" stroke="#e0151b" stroke-width="1.5" stroke-linejoin="round"/><g opacity=".999"><text x="86.2" y="142.8" font-family="'Liberation Sans', sans-serif" font-size="10.5">k<tspan font-size="7" dy="2.2">c</tspan></text><text x="88.8" y="341.3" font-family="'Liberation Sans', sans-serif" font-size="10.5">k<tspan font-size="7" dy="2.2">c</tspan></text><text x="51.8" y="108" font-family="'Liberation Sans', sans-serif" font-size="10.5">k<tspan font-size="7" dy="2.2">y</tspan></text><text x="103.8" y="163.9" font-family="'Liberation Sans', sans-serif" font-size="10.5">k<tspan font-size="7" dy="2.2">x</tspan></text><text x="52.8" y="306.8" font-family="'Liberation Sans', sans-serif" font-size="10.5">k<tspan font-size="7" dy="2.2">y</tspan></text><text x="104.8" y="363.4" font-family="'Liberation Sans', sans-serif" font-size="10.5">k<tspan font-size="7" dy="2.2">x</tspan></text><text x="381.8" y="110.8" font-family="'Liberation Sans', sans-serif" font-size="10.5">k<tspan font-size="7" dy="2.2">y</tspan></text><text x="429.8" y="161.7" font-family="'Liberation Sans', sans-serif" font-size="10.5">k<tspan font-size="7" dy="2.2">x</tspan></text><text x="381.8" y="312.3" font-family="'Liberation Sans', sans-serif" font-size="10.5">k<tspan font-size="7" dy="2.2">y</tspan></text><text x="429.8" y="363.4" font-family="'Liberation Sans', sans-serif" font-size="10.5">k<tspan font-size="7" dy="2.2">x</tspan></text><text x="0.7" y="11.3" font-family="'Liberation Sans', sans-serif" font-size="14.5" font-weight="bold">a</text><text x="463.6" y="30.4" font-family="'Liberation Sans', sans-serif" font-size="14.5" font-weight="bold">b</text><text x="1.0" y="210.0" font-family="'Liberation Sans', sans-serif" font-size="14.5" font-weight="bold">c</text><text x="463.4" y="233.1" font-family="'Liberation Sans', sans-serif" font-size="14.5" font-weight="bold">d</text><text x="67.2" y="13.3" font-family="'Liberation Sans', sans-serif" font-size="12" text-anchor="middle">t = 1τ</text><text x="146.6" y="13.3" font-family="'Liberation Sans', sans-serif" font-size="12" text-anchor="middle">t = 10τ</text><text x="226.9" y="13.3" font-family="'Liberation Sans', sans-serif" font-size="12" text-anchor="middle">t = 50τ</text><text x="309.5" y="13.3" font-family="'Liberation Sans', sans-serif" font-size="12" text-anchor="middle">t = 600τ</text><text x="67.6" y="212.6" font-family="'Liberation Sans', sans-serif" font-size="12" text-anchor="middle">t = 1τ</text><text x="147.7" y="212.6" font-family="'Liberation Sans', sans-serif" font-size="12" text-anchor="middle">t = 10τ</text><text x="229.3" y="212.6" font-family="'Liberation Sans', sans-serif" font-size="12" text-anchor="middle">t = 100τ</text><text x="307.3" y="212.6" font-family="'Liberation Sans', sans-serif" font-size="12" text-anchor="middle">t = 600τ</text><text x="489.3" y="164.6" font-family="'Liberation Sans', sans-serif" font-size="12" text-anchor="end">0</text><text x="489.3" y="134.8" font-family="'Liberation Sans', sans-serif" font-size="12" text-anchor="end">1</text><text x="489.3" y="105" font-family="'Liberation Sans', sans-serif" font-size="12" text-anchor="end">2</text><text x="489.3" y="75.2" font-family="'Liberation Sans', sans-serif" font-size="12" text-anchor="end">3</text><text x="489.3" y="45.4" font-family="'Liberation Sans', sans-serif" font-size="12" text-anchor="end">4</text><text x="494.6" y="177.6" font-family="'Liberation Sans', sans-serif" font-size="12.7" text-anchor="middle">0</text><text x="553.05" y="177.6" font-family="'Liberation Sans', sans-serif" font-size="12.7" text-anchor="middle">200</text><text x="611.5" y="177.6" font-family="'Liberation Sans', sans-serif" font-size="12.7" text-anchor="middle">400</text><text x="669.95" y="177.6" font-family="'Liberation Sans', sans-serif" font-size="12.7" text-anchor="middle">600</text><text x="582.4" y="188.6" font-family="'Liberation Sans', sans-serif" font-size="12.5" text-anchor="middle">time [τ]</text><text x="0" y="0" font-family="'Liberation Sans', sans-serif" font-size="12" transform="translate(476.2 150.2) rotate(-90)" textLength="104.5" lengthAdjust="spacingAndGlyphs">Pinwheel density ρ</text><text x="489.3" y="372.4" font-family="'Liberation Sans', sans-serif" font-size="12" text-anchor="end">0</text><text x="489.3" y="342.4" font-family="'Liberation Sans', sans-serif" font-size="12" text-anchor="end">1</text><text x="489.3" y="312.4" font-family="'Liberation Sans', sans-serif" font-size="12" text-anchor="end">2</text><text x="489.3" y="282.4" font-family="'Liberation Sans', sans-serif" font-size="12" text-anchor="end">3</text><text x="489.3" y="252.4" font-family="'Liberation Sans', sans-serif" font-size="12" text-anchor="end">4</text><text x="494.6" y="385.4" font-family="'Liberation Sans', sans-serif" font-size="12.7" text-anchor="middle">0</text><text x="553.05" y="385.4" font-family="'Liberation Sans', sans-serif" font-size="12.7" text-anchor="middle">200</text><text x="611.5" y="385.4" font-family="'Liberation Sans', sans-serif" font-size="12.7" text-anchor="middle">400</text><text x="669.95" y="385.4" font-family="'Liberation Sans', sans-serif" font-size="12.7" text-anchor="middle">600</text><text x="582.4" y="396.4" font-family="'Liberation Sans', sans-serif" font-size="12.5" text-anchor="middle">time [τ]</text><text x="0" y="0" font-family="'Liberation Sans', sans-serif" font-size="12" transform="translate(476.2 358) rotate(-90)" textLength="104.5" lengthAdjust="spacingAndGlyphs">Pinwheel density ρ</text></g></svg></body></html>
